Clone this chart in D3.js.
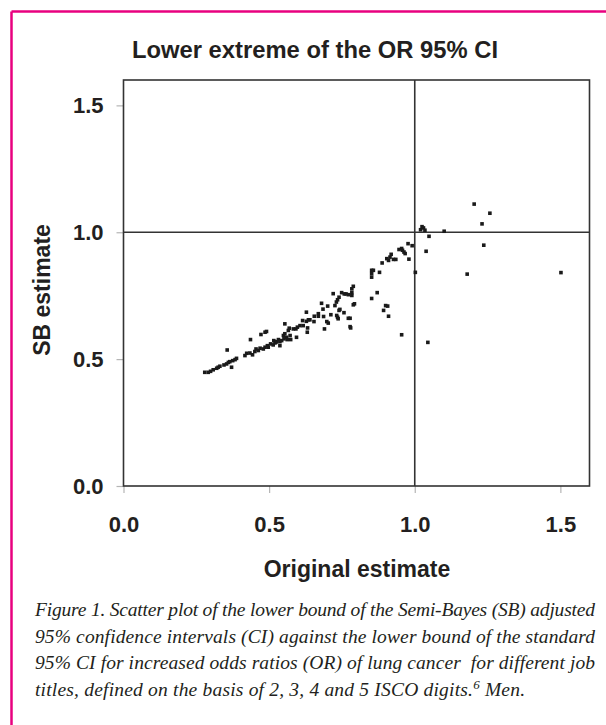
<!DOCTYPE html>
<html>
<head>
<meta charset="utf-8">
<script src="https://cdn.jsdelivr.net/npm/d3@7"></script>
<style>
  html, body { margin: 0; padding: 0; background: #fff; }
  svg { display: block; }
</style>
</head>
<body>
<svg id="chart" width="606" height="725"></svg>
<script>
// ---- data ----
const title = "Lower extreme of the OR 95% CI";
const xTitle = "Original estimate";
const yTitle = "SB estimate";
const xTicks = [0, 0.5, 1.0, 1.5];
const yTicks = [0, 0.5, 1.0, 1.5];
const refLineX = 1.0;
const refLineY = 1.0;

const originalEstimate = [
  0.279,0.291,0.299,0.308,0.320,0.325,0.331,0.345,0.354,0.360,0.365,0.371,0.375,0.383,0.388,0.356,
  0.417,0.423,0.434,0.443,0.451,0.455,0.463,0.469,0.480,0.486,0.494,0.497,0.436,0.472,0.486,0.491,
  0.505,0.514,0.516,0.520,0.523,0.526,0.532,0.537,0.537,0.543,0.549,0.551,0.554,0.554,0.560,0.562,
  0.566,0.569,0.572,0.574,0.583,0.592,0.594,0.597,0.606,0.615,0.617,0.628,0.631,0.632,0.628,0.635,
  0.640,0.654,0.655,0.669,0.669,0.680,0.685,0.687,0.690,0.698,0.701,0.703,0.712,0.720,0.726,0.731,
  0.735,0.740,0.732,0.735,0.737,0.740,0.743,0.749,0.758,0.764,0.772,0.757,0.772,0.778,0.778,0.780,
  0.784,0.784,0.784,0.789,0.789,0.793,
  0.852,0.852,0.852,0.858,0.879,0.852,0.871,0.888,0.893,0.900,0.904,0.907,0.910,0.910,0.915,0.919,
  0.927,0.935,0.946,0.955,0.958,0.963,0.967,0.955,0.977,0.980,0.991,1.002,
  1.020,1.025,1.030,1.035,1.049,1.039,1.045,1.101,1.180,1.204,1.231,1.237,1.258,1.502
];
const sbEstimate = [
  0.448,0.448,0.452,0.458,0.464,0.468,0.472,0.477,0.481,0.487,0.490,0.468,0.494,0.498,0.503,0.536,
  0.514,0.523,0.524,0.517,0.530,0.540,0.534,0.543,0.540,0.547,0.553,0.547,0.577,0.597,0.606,0.609,
  0.560,0.556,0.573,0.564,0.566,0.569,0.577,0.553,0.569,0.573,0.593,0.580,0.600,0.639,0.586,0.577,
  0.613,0.622,0.593,0.577,0.619,0.619,0.586,0.626,0.632,0.652,0.632,0.649,0.606,0.623,0.685,0.655,
  0.655,0.648,0.669,0.679,0.669,0.720,0.697,0.668,0.619,0.648,0.709,0.642,0.675,0.758,0.711,0.725,
  0.734,0.744,0.672,0.665,0.659,0.692,0.696,0.762,0.757,0.757,0.754,0.683,0.661,0.661,0.628,0.623,
  0.777,0.762,0.751,0.787,0.714,0.718,
  0.850,0.837,0.823,0.850,0.842,0.739,0.762,0.879,0.692,0.711,0.896,0.709,0.889,0.669,0.902,0.913,
  0.893,0.893,0.932,0.936,0.929,0.922,0.916,0.596,0.955,0.894,0.947,0.842,
  1.010,1.022,1.017,1.008,0.984,0.925,0.566,1.004,0.835,1.111,1.033,0.949,1.075,0.841
];
const captionLines = [
  "Figure 1. Scatter plot of the lower bound of the Semi-Bayes (SB) adjusted",
  "95% confidence intervals (CI) against the lower bound of the standard",
  "95% CI for increased odds ratios (OR) of lung cancer  for different job",
  "titles, defined on the basis of 2, 3, 4 and 5 ISCO digits."
];
const captionSup = "6";
const captionEnd = " Men.";

// ---- drawing ----
const svg = d3.select("#chart");
const frame = "#e8007f";
const ink = "#231f20";
const sans = "Liberation Sans, Arial, sans-serif";

// magenta frame (left + top visible)
svg.append("line").attr("x1", 11.5).attr("y1", 11.5).attr("x2", 606).attr("y2", 11.5)
  .attr("stroke", frame).attr("stroke-width", 2.5);
svg.append("line").attr("x1", 11.5).attr("y1", 11.5).attr("x2", 11.5).attr("y2", 725)
  .attr("stroke", frame).attr("stroke-width", 2.5);

const plot = {left: 123.5, right: 589.5, top: 80, bottom: 486};
const x = d3.scaleLinear().domain([0, 1.6]).range([plot.left, plot.right]);
const y = d3.scaleLinear().domain([0, 1.6]).range([plot.bottom, plot.top]);

// title
svg.append("text").attr("x", 315).attr("y", 58).attr("text-anchor", "middle")
  .attr("font-family", sans).attr("font-weight", "bold")
  .attr("font-size", 24).attr("textLength", 366).attr("lengthAdjust", "spacingAndGlyphs")
  .attr("fill", ink).text(title);

// axes (gray ticks)
const xAxis = svg.append("g").attr("transform", `translate(0,${plot.bottom})`)
  .call(d3.axisBottom(x).tickValues(xTicks).tickFormat(d3.format(".1f")).tickSize(7).tickPadding(23));
const yAxis = svg.append("g").attr("transform", `translate(${plot.left},0)`)
  .call(d3.axisLeft(y).tickValues(yTicks).tickFormat(d3.format(".1f")).tickSize(7).tickPadding(13));
[xAxis, yAxis].forEach(g => {
  g.select(".domain").remove();
  g.selectAll(".tick line").attr("stroke", "#b5b5b5").attr("stroke-width", 1.2);
  g.selectAll(".tick text").attr("font-family", sans)
    .attr("font-weight", "bold").attr("font-size", 22).attr("fill", ink);
});
xAxis.selectAll(".tick text").attr("dy", "0.71em");

// plot frame
svg.append("rect").attr("x", plot.left).attr("y", plot.top)
  .attr("width", plot.right - plot.left).attr("height", plot.bottom - plot.top)
  .attr("fill", "none").attr("stroke", "#333").attr("stroke-width", 1.6);

// reference lines
svg.append("line").attr("x1", x(refLineX)).attr("x2", x(refLineX)).attr("y1", plot.top).attr("y2", plot.bottom)
  .attr("stroke", "#333").attr("stroke-width", 1.6);
svg.append("line").attr("x1", plot.left).attr("x2", plot.right).attr("y1", y(refLineY)).attr("y2", y(refLineY))
  .attr("stroke", "#333").attr("stroke-width", 1.6);

// points
const pts = originalEstimate.map((v, i) => [v, sbEstimate[i]]);
svg.append("g").selectAll("rect").data(pts).join("rect")
  .attr("x", d => x(d[0]) - 1.8).attr("y", d => y(d[1]) - 1.8)
  .attr("width", 3.6).attr("height", 3.6).attr("fill", "#1a1a1a");

// axis titles
svg.append("text").attr("x", 357).attr("y", 577).attr("text-anchor", "middle")
  .attr("font-family", sans).attr("font-weight", "bold")
  .attr("font-size", 23).attr("fill", ink).text(xTitle);
svg.append("text").attr("transform", "translate(50,290) rotate(-90)").attr("text-anchor", "middle")
  .attr("font-family", sans).attr("font-weight", "bold")
  .attr("font-size", 23).attr("fill", ink).text(yTitle);

// caption
const capX = 35, capY0 = 616, capDy = 26.5;
const cap = svg.append("g").attr("font-family", "Liberation Serif, Times New Roman, serif")
  .attr("font-style", "italic").attr("font-size", 19.5).attr("fill", ink);
captionLines.forEach((t, i) => {
  const tx = cap.append("text").attr("x", capX).attr("y", capY0 + i * capDy).attr("xml:space", "preserve");
  if (i < 3) {
    tx.attr("textLength", 560).attr("lengthAdjust", "spacing").text(t);
  } else {
    tx.attr("textLength", 490).attr("lengthAdjust", "spacing").text(t);
    tx.append("tspan").attr("font-size", 13).attr("dy", -7).text(captionSup);
    tx.append("tspan").attr("dy", 7).text(captionEnd);
  }
});
</script>
</body>
</html>
